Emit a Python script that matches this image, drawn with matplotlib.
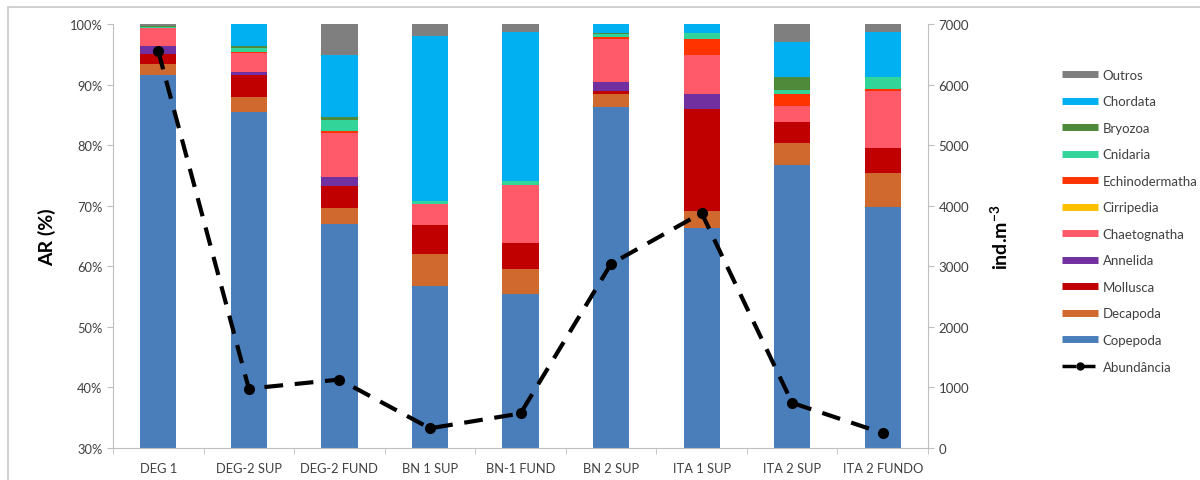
import matplotlib
matplotlib.use('Agg')
import matplotlib.pyplot as plt
from matplotlib.lines import Line2D
from matplotlib.patches import Rectangle
from matplotlib.ticker import FuncFormatter
import numpy as np

plt.rcParams['font.family'] = ['Lato', 'DejaVu Sans']

stations = ['DEG 1', 'DEG-2 SUP', 'DEG-2 FUND', 'BN 1 SUP', 'BN-1 FUND',
            'BN 2 SUP', 'ITA 1 SUP', 'ITA 2 SUP', 'ITA 2 FUNDO']

# relative abundance (%) per group, bottom to top of the stack
copepoda       = [91.5, 85.4, 67.0, 56.8, 55.4, 86.3, 66.3, 76.8, 69.8]
decapoda       = [1.9, 2.6, 2.6, 5.3, 4.2, 2.1, 2.8, 3.5, 5.6]
mollusca       = [1.7, 3.6, 3.7, 4.7, 4.2, 0.5, 16.9, 3.6, 4.1]
annelida       = [1.2, 0.4, 1.4, 0.0, 0.0, 1.6, 2.4, 0.0, 0.0]
chaetognatha   = [3.0, 3.2, 7.3, 3.5, 9.7, 7.0, 6.5, 2.5, 9.4]
cirripedia     = [0.0, 0.0, 0.0, 0.0, 0.0, 0.0, 0.0, 0.0, 0.0]
echinodermatha = [0.0, 0.2, 0.4, 0.0, 0.0, 0.3, 2.7, 2.0, 0.4]
cnidaria       = [0.2, 0.6, 1.8, 0.4, 0.6, 0.5, 0.9, 0.7, 1.9]
bryozoa        = [0.2, 0.3, 0.5, 0.0, 0.0, 0.2, 0.0, 2.1, 0.0]
chordata       = [0.0, 3.7, 10.2, 27.4, 24.5, 1.5, 1.5, 5.9, 7.5]
outros         = [0.3, 0.0, 5.1, 1.9, 1.4, 0.0, 0.0, 2.9, 1.3]

# total abundance (ind.m-3)
abundancia = [6550, 980, 1130, 325, 570, 3040, 3880, 745, 245]

groups = [
    ('Copepoda', copepoda, '#4A7EBB'),
    ('Decapoda', decapoda, '#D0692D'),
    ('Mollusca', mollusca, '#C00000'),
    ('Annelida', annelida, '#7030A0'),
    ('Chaetognatha', chaetognatha, '#FF5A6A'),
    ('Cirripedia', cirripedia, '#FFC000'),
    ('Echinodermatha', echinodermatha, '#FF3300'),
    ('Cnidaria', cnidaria, '#33D49A'),
    ('Bryozoa', bryozoa, '#4E8A3A'),
    ('Chordata', chordata, '#00B0F0'),
    ('Outros', outros, '#7F7F7F'),
]

fig = plt.figure(figsize=(12, 4.81), dpi=100)
ax = fig.add_axes([113/1200, 1 - 449/481, (928 - 113)/1200, (449 - 25)/481])

x = np.arange(len(stations))
bottom = np.zeros(len(stations))
for name, vals, col in groups:
    ax.bar(x, vals, 0.4, bottom=bottom, color=col, label=name, zorder=2)
    bottom += np.array(vals)

ax.set_ylim(30, 100)
ax.set_xlim(-0.5, len(stations) - 0.5)
ax.set_yticks(np.arange(30, 101, 10))
ax.yaxis.set_major_formatter(FuncFormatter(lambda v, p: f'{int(v)}%'))
ax.set_xticks(x)
ax.set_xticklabels(stations)
ax.set_xticks(np.arange(-0.5, len(stations), 1), minor=True)
ax.tick_params(axis='x', which='major', length=0, pad=10, labelsize=9.3, labelcolor='#404040')
ax.tick_params(axis='x', which='minor', length=4, color='#BFBFBF')
ax.tick_params(axis='y', length=4, color='#BFBFBF', labelsize=9.3, labelcolor='#404040')
for s in ['top', 'right']:
    ax.spines[s].set_visible(False)
for s in ['left', 'bottom']:
    ax.spines[s].set_color('#BFBFBF')
ax.set_ylabel('AR (%)', fontsize=14, fontweight='bold', labelpad=10)

ax2 = ax.twinx()
ax2.plot(x, abundancia, color='black', linestyle=(0, (4.5, 2.8)), linewidth=3,
         marker='o', markersize=7, zorder=3)
ax2.set_ylim(0, 7000)
ax2.set_yticks(np.arange(0, 7001, 1000))
ax2.tick_params(axis='y', length=4, color='#BFBFBF', labelsize=9.5, labelcolor='#404040')
for s in ['top', 'left', 'bottom']:
    ax2.spines[s].set_visible(False)
ax2.spines['right'].set_color('#BFBFBF')
ax2.set_ylabel('ind.m$^{\\mathregular{-3}}$', fontsize=14, fontweight='bold', labelpad=14)

# legend, Outros on top
handles = [Line2D([], [], color=col, linewidth=5, solid_capstyle='butt')
           for name, vals, col in reversed(groups)]
labels = [name for name, vals, col in reversed(groups)]
handles.append(Line2D([], [], color='black', linestyle=(0, (4, 1.5)), linewidth=2.5,
                      marker='o', markersize=5))
labels.append('Abundância')
fig.legend(handles, labels, loc='upper left', bbox_to_anchor=(1050/1200, 1 - 58/481),
           frameon=False, fontsize=9.5, handlelength=2.7, labelspacing=1.1,
           handletextpad=0.4, labelcolor='#404040')

# light frame around the chart area
fig.patches.append(Rectangle((8/1200, -0.2), 1.2, 1.2 - 8/481, transform=fig.transFigure,
                             fill=False, edgecolor='#C8C8C8', linewidth=1.2))

fig.savefig('out.png', dpi=100)
